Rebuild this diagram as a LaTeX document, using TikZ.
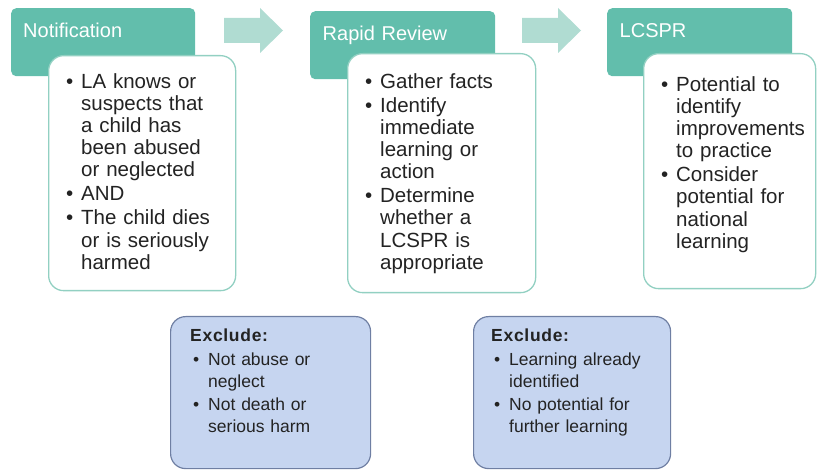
\documentclass[tikz,border=0pt]{standalone}
\usepackage{fontspec}
\setmainfont{Liberation Sans}
\usetikzlibrary{positioning}

\definecolor{stagegreen}{HTML}{62BEAC}
\definecolor{flowgreen}{HTML}{B0DCD2}
\definecolor{cardline}{HTML}{92D0C2}
\definecolor{exclfill}{HTML}{C6D5F0}
\definecolor{excledge}{HTML}{6F7FA3}
\definecolor{inkgrey}{HTML}{232323}

% bullet hanging in the left margin; items are ended with \par
\newcommand{\bul}{\leftskip=15pt\noindent\llap{\makebox[15pt][l]{\textbullet}}}

\tikzset{
  stagehead/.style={fill=stagegreen, rounded corners=5pt, text=white,
    font=\fontsize{20}{24}\selectfont, text width=160pt, align=left,
    inner xsep=12pt, inner ysep=14.5pt, text height=14.5pt, text depth=24.5pt},
  card/.style={fill=white, draw=cardline, line width=1.3pt, rounded corners=15pt},
  cardtext/.style={text=inkgrey, text width=165pt, align=left, inner sep=0pt,
    font=\fontsize{20.5}{22.2}\selectfont,
    execute at begin node={\setlength{\parskip}{1.8pt}}},
  exclbox/.style={fill=exclfill, draw=excledge, line width=1.2pt, rounded corners=15pt},
  excltext/.style={text=inkgrey, text width=170pt, align=left, inner sep=0pt,
    font=\fontsize{17.5}{22}\selectfont,
    execute at begin node={\setlength{\parskip}{1.5pt}}},
  steparrow/.style={fill=flowgreen},
}

\begin{document}
\begin{tikzpicture}[x=1pt,y=-1pt]
\useasboundingbox (0,0) rectangle (817,470);

% stage headers
\node[stagehead, anchor=north west, minimum width=184pt] (notif) at (11,8) {Notification};
\node[stagehead, anchor=north west, minimum width=185pt] (rapid) at (310,11) {Rapid Review};
\node[stagehead, anchor=north west, minimum width=185pt] (lcspr) at (607,8) {LCSPR};

% block arrows between stages
\fill[steparrow] (224,18) -- (260,18) -- (260,8) -- (283,30.5) -- (260,53) -- (260,43) -- (224,43) -- cycle;
\fill[steparrow] (522,18) -- (558,18) -- (558,8) -- (581,30.5) -- (558,53) -- (558,43) -- (522,43) -- cycle;

% white cards on top of the headers
\node[card, anchor=north west, minimum width=187pt, minimum height=235pt] (cardA) at (48,55) {};
\node[card, anchor=north west, minimum width=188pt, minimum height=239pt] (cardB) at (347,53) {};
\node[card, anchor=north west, minimum width=172pt, minimum height=235pt] (cardC) at (643,53) {};

\node[cardtext, anchor=north west] (listA) at (66,73) {%
  \bul LA knows or\newline suspects that\newline a child has\newline been abused\newline or neglected\par
  \bul AND\par
  \bul The child dies\newline or is seriously\newline harmed\par};
\node[cardtext, anchor=north west] (listB) at (365,73) {%
  \bul Gather facts\par
  \bul Identify\newline immediate\newline learning or\newline action\par
  \bul Determine\newline whether a\newline LCSPR is\newline appropriate\par};
\node[cardtext, anchor=north west] (listC) at (661,76) {%
  \bul Potential to\newline identify\newline improvements\newline to practice\par
  \bul Consider\newline potential for\newline national\newline learning\par};

% exclusion boxes
\node[exclbox, anchor=north west, minimum width=200pt, minimum height=152pt] (exclA) at (170,316) {};
\node[exclbox, anchor=north west, minimum width=197pt, minimum height=152pt] (exclB) at (473,316) {};

\node[excltext, anchor=north west] (exclAtext) at (193,329) {%
  \noindent\hspace*{-3pt}{\bfseries\addfontfeatures{LetterSpace=4}Exclude:}\par
  \bul Not abuse or\newline neglect\par
  \bul Not death or\newline serious harm\par};
\node[excltext, anchor=north west] (exclBtext) at (494,329) {%
  \noindent\hspace*{-3pt}{\bfseries\addfontfeatures{LetterSpace=4}Exclude:}\par
  \bul Learning already\newline identified\par
  \bul No potential for\newline further learning\par};
\end{tikzpicture}
\end{document}
